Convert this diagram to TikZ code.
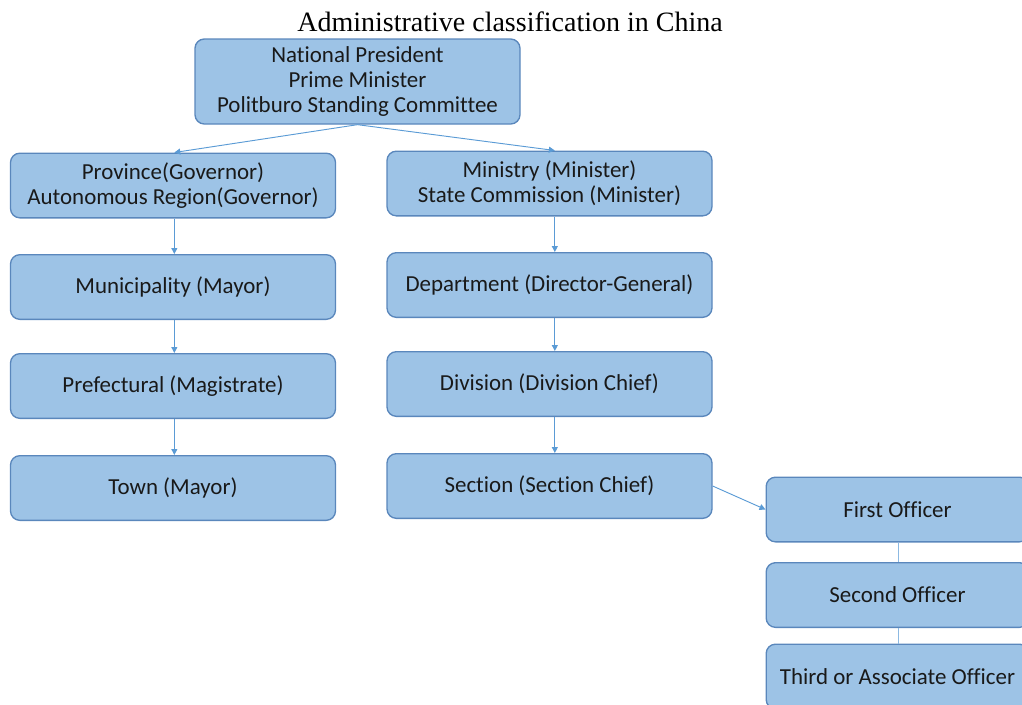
\documentclass[tikz,border=0pt]{standalone}
\usepackage{fontspec}
\setmainfont{Carlito}[Ligatures=NoCommon]
\newfontfamily\titlefont{Liberation Serif}
\usetikzlibrary{arrows.meta}
\definecolor{boxfill}{HTML}{9DC3E6}
\definecolor{boxline}{HTML}{5A87BC}
\definecolor{arrowcol}{HTML}{5B9BD5}
\begin{document}
\begin{tikzpicture}[x=0.75pt,y=-0.75pt,
  box/.style={draw=boxline, line width=1pt, fill=boxfill, rounded corners=7pt,
    minimum width=243.75pt, minimum height=48.5pt, inner sep=0pt, align=center,
    font=\fontsize{17.2pt}{18.6pt}\selectfont, text=black!90},
  conn/.style={draw=arrowcol, line width=0.7pt, -{Triangle[length=4.5pt,width=4.5pt]}},
  plain/.style={draw=arrowcol!70, line width=0.6pt}]
\useasboundingbox (0,0) rectangle (1022,704);
\clip (0,0) rectangle (1022,704);
\node[font=\titlefont\fontsize{21pt}{24pt}\selectfont] (title) at (510,22) {Administrative classification in China};
\node[box, minimum height=63.75pt] (top) at (357.5,81.5) {National President\\Prime Minister\\Politburo Standing Committee};
\node[box] (prov) at (173,185.5) {Province(Governor)\\Autonomous Region(Governor)};
\node[box] (min) at (549.5,183.5) {Ministry (Minister)\\State Commission (Minister)};
\node[box] (muni) at (173,287) {Municipality (Mayor)};
\node[box] (dep) at (549.5,285) {Department (Director-General)};
\node[box] (pref) at (173,386) {Prefectural (Magistrate)};
\node[box] (div) at (549.5,384) {Division (Division Chief)};
\node[box] (town) at (173,488) {Town (Mayor)};
\node[box] (sec) at (549.5,486) {Section (Section Chief)};
\node[box, minimum width=197pt] (first) at (897.5,509.5) {First Officer};
\node[box, minimum width=197pt] (second) at (897.5,595) {Second Officer};
\node[box, minimum width=197pt] (third) at (897.5,676.5) {Third or Associate Officer};
\draw[conn] (top.south) -- ([xshift=1pt]prov.north);
\draw[conn] (top.south) -- ([xshift=4pt]min.north);
\draw[conn] ([xshift=1pt]prov.south) -- ([xshift=1pt]muni.north);
\draw[conn] ([xshift=1pt]muni.south) -- ([xshift=1pt]pref.north);
\draw[conn] ([xshift=1pt]pref.south) -- ([xshift=1pt]town.north);
\draw[conn] ([xshift=4pt]min.south) -- ([xshift=4pt]dep.north);
\draw[conn] ([xshift=4pt]dep.south) -- ([xshift=4pt]div.north);
\draw[conn] ([xshift=4pt]div.south) -- ([xshift=4pt]sec.north);
\draw[conn] (sec.east) -- (first.west);
\draw[plain] ([xshift=1pt]first.south) -- ([xshift=1pt]second.north);
\draw[plain] ([xshift=1pt]second.south) -- ([xshift=1pt]third.north);
\end{tikzpicture}
\end{document}
